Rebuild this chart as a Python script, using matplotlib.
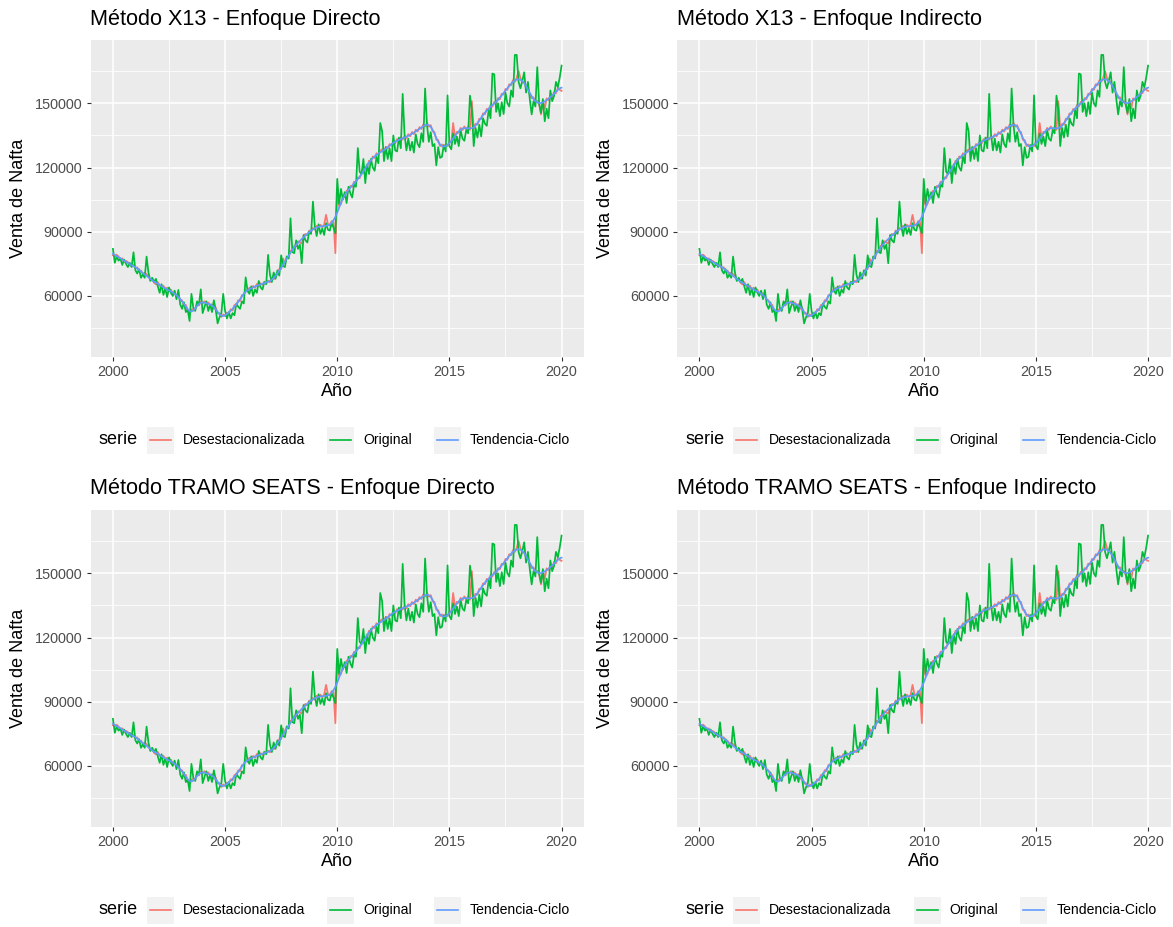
import numpy as np
import matplotlib
matplotlib.use('Agg')
import matplotlib.pyplot as plt
from matplotlib.patches import Rectangle
from matplotlib.lines import Line2D

plt.rcParams['font.family'] = ['Liberation Sans', 'DejaVu Sans']

# monthly data, Jan 2000 .. Jan 2020, in thousands of units
original = [
    82.0, 75.5, 78.5, 76.5, 77.5, 74.5, 77.0, 75.0, 73.5, 75.5, 73.5, 80.4,
    72.0, 70.5, 72.5, 68.5, 70.0, 68.5, 78.4, 71.0, 67.0, 68.5, 66.5, 68.0,
    64.5, 61.5, 65.5, 60.5, 63.5, 59.5, 64.0, 61.5, 60.0, 62.5, 58.5, 62.8,
    56.0, 54.0, 57.0, 52.5, 53.5, 48.3, 61.0, 54.5, 53.0, 57.5, 56.0, 63.1,
    52.0, 55.0, 57.5, 53.0, 56.0, 52.5, 58.0, 53.5, 47.2, 50.0, 52.0, 61.0,
    53.0, 49.5, 52.5, 49.5, 52.0, 51.0, 56.5, 55.0, 54.0, 57.5, 56.5, 68.7,
    62.5, 61.0, 64.5, 60.0, 63.0, 61.5, 67.0, 64.0, 63.0, 66.5, 65.5, 79.2,
    70.0, 66.5, 71.0, 68.0, 72.0, 69.5, 79.0, 74.0, 73.5, 78.5, 77.5, 96.3,
    80.5, 80.0, 86.0, 82.0, 84.0, 75.3, 88.5, 86.0, 85.0, 90.0, 89.0, 104.1,
    92.5, 88.0, 93.5, 89.0, 91.5, 88.5, 94.0, 91.0, 90.5, 94.0, 92.0, 89.3,
    114.7, 103.0, 110.0, 105.0, 108.5, 103.4, 111.0, 108.0, 106.0, 112.0, 111.0, 129.1,
    118.0, 117.0, 124.0, 112.7, 121.5, 117.0, 124.0, 120.0, 118.5, 125.0, 122.0, 140.8,
    137.0, 123.0, 129.5, 124.0, 129.0, 123.0, 135.0, 128.0, 127.5, 134.0, 129.0, 154.4,
    135.5, 128.0, 133.5, 128.0, 132.0, 127.0, 135.5, 131.0, 129.5, 136.0, 132.0, 156.9,
    140.0, 132.0, 136.5, 130.0, 131.0, 121.0, 129.5, 124.5, 125.0, 130.5, 127.5, 153.7,
    130.0, 128.5, 136.0, 131.0, 134.5, 130.0, 137.5, 133.5, 132.5, 137.5, 136.0, 153.6,
    147.0, 130.0, 138.5, 134.0, 140.0, 134.5, 143.0, 140.5, 139.5, 147.0, 143.0, 163.9,
    163.5, 146.0, 150.0, 144.0, 150.5, 145.0, 155.0, 150.0, 148.5, 156.0, 153.0, 172.6,
    172.6, 160.0, 157.0, 160.5, 164.5, 155.0, 160.0, 152.0, 144.8, 151.0, 148.5, 166.9,
    150.0, 145.5, 152.0, 141.6, 147.5, 143.0, 156.0, 151.0, 153.5, 160.0, 157.5, 162.0,
    167.6,
]

desestacionalizada = [
    79.0, 78.6, 79.3, 78.4, 77.0, 77.6, 76.0, 76.4, 75.8, 74.6, 74.0, 74.5,
    72.8, 73.4, 71.6, 71.9, 70.2, 70.8, 70.2, 69.4, 67.5, 67.8, 66.2, 65.4,
    66.5, 64.7, 64.2, 64.8, 63.0, 63.9, 62.0, 63.0, 61.2, 61.8, 59.6, 60.0,
    58.3, 57.9, 55.6, 55.8, 52.9, 52.0, 53.6, 53.9, 53.7, 56.0, 55.6, 57.4,
    56.5, 57.6, 56.1, 57.0, 55.4, 56.2, 54.0, 54.6, 51.8, 52.0, 50.2, 51.4,
    50.6, 52.2, 51.8, 53.8, 53.2, 55.8, 55.4, 58.0, 57.6, 60.4, 60.4, 62.8,
    62.0, 63.9, 63.1, 64.7, 63.8, 65.6, 64.6, 66.0, 65.2, 66.7, 65.8, 67.2,
    66.4, 68.3, 67.8, 70.1, 70.0, 72.6, 72.6, 77.5, 75.3, 78.2, 78.0, 81.2,
    80.8, 83.5, 83.2, 85.6, 85.0, 84.5, 88.0, 89.0, 88.4, 90.6, 89.8, 91.8,
    91.0, 92.8, 91.8, 93.3, 92.0, 93.4, 97.9, 93.6, 92.8, 95.0, 94.6, 80.0,
    108.5, 102.0, 103.0, 106.3, 106.2, 109.2, 108.8, 111.4, 110.9, 113.4, 112.8, 115.4,
    115.0, 117.8, 117.4, 120.5, 120.2, 123.2, 122.6, 125.2, 124.4, 126.7, 125.8, 127.9,
    128.5, 127.5, 129.7, 128.8, 131.0, 130.2, 132.3, 131.3, 133.3, 132.2, 134.1, 133.0,
    134.8, 133.7, 135.6, 134.6, 136.6, 135.6, 137.7, 136.8, 138.9, 138.0, 140.1, 139.2,
    140.8, 139.1, 139.8, 136.9, 136.6, 133.0, 132.8, 130.0, 130.8, 129.1, 130.8, 130.0,
    132.2, 131.7, 140.8, 134.0, 136.7, 136.2, 138.5, 137.5, 139.2, 137.7, 139.1, 137.6,
    151.0, 138.0, 140.4, 140.0, 142.8, 142.6, 145.3, 144.9, 147.4, 146.8, 149.2, 148.5,
    150.7, 150.0, 152.4, 151.9, 154.5, 154.1, 156.7, 156.3, 158.9, 158.4, 160.8, 160.0,
    161.9, 165.0, 161.8, 159.7, 160.2, 157.3, 157.2, 154.1, 152.4, 152.8, 150.2, 151.2,
    149.4, 144.8, 151.2, 147.5, 152.3, 151.5, 153.7, 153.0, 155.3, 154.7, 157.1, 156.3,
    155.8,
]

tendencia = [
    79.7, 79.2, 78.6, 78.1, 77.6, 77.0, 76.5, 76.0, 75.4, 74.9, 74.3, 73.9,
    73.5, 72.8, 72.1, 71.4, 70.7, 70.0, 69.4, 68.7, 68.0, 67.3, 66.7, 66.2,
    65.8, 65.2, 64.6, 64.0, 63.5, 63.0, 62.6, 62.1, 61.6, 61.0, 60.3, 59.6,
    58.5, 57.5, 56.3, 55.0, 53.8, 53.0, 52.7, 53.2, 54.2, 55.3, 56.2, 56.8,
    57.0, 56.9, 56.6, 56.3, 56.0, 55.5, 54.8, 53.8, 52.6, 51.5, 50.8, 50.6,
    51.0, 51.6, 52.3, 53.1, 54.0, 55.0, 56.0, 57.2, 58.5, 59.8, 61.0, 62.0,
    62.7, 63.2, 63.6, 64.0, 64.4, 64.8, 65.1, 65.4, 65.7, 66.0, 66.3, 66.6,
    67.0, 67.6, 68.4, 69.4, 70.6, 71.9, 73.2, 74.6, 76.0, 77.4, 78.8, 80.2,
    81.5, 82.7, 83.8, 84.8, 85.7, 86.6, 87.4, 88.2, 89.0, 89.8, 90.5, 91.1,
    91.6, 92.0, 92.3, 92.5, 92.6, 92.7, 92.8, 93.0, 93.4, 94.2, 95.4, 97.0,
    99.0, 101.3, 103.6, 105.5, 107.0, 108.3, 109.5, 110.6, 111.6, 112.6, 113.6, 114.6,
    115.7, 116.9, 118.2, 119.6, 121.0, 122.3, 123.4, 124.4, 125.2, 125.9, 126.5, 127.1,
    127.6, 128.2, 128.8, 129.5, 130.2, 130.9, 131.5, 132.0, 132.5, 132.9, 133.3, 133.7,
    134.0, 134.4, 134.8, 135.3, 135.8, 136.3, 136.9, 137.5, 138.1, 138.7, 139.3, 139.8,
    140.0, 139.8, 139.0, 137.6, 135.8, 133.8, 132.0, 130.7, 130.0, 129.8, 130.0, 130.6,
    131.4, 132.4, 133.5, 134.7, 135.9, 136.9, 137.7, 138.2, 138.4, 138.4, 138.3, 138.3,
    138.4, 138.8, 139.6, 140.7, 142.0, 143.3, 144.5, 145.6, 146.6, 147.5, 148.4, 149.2,
    149.9, 150.7, 151.6, 152.6, 153.7, 154.8, 155.9, 157.0, 158.1, 159.1, 160.0, 160.7,
    161.1, 161.2, 161.0, 160.4, 159.4, 158.0, 156.4, 154.8, 153.3, 152.0, 151.0, 150.4,
    150.1, 150.1, 150.4, 150.9, 151.5, 152.2, 152.9, 153.7, 154.5, 155.4, 156.3, 157.0,
    157.3,
]

titulos = [
    'Método X13 - Enfoque Directo',
    'Método X13 - Enfoque Indirecto',
    'Método TRAMO SEATS - Enfoque Directo',
    'Método TRAMO SEATS - Enfoque Indirecto',
]
series = ['Desestacionalizada', 'Original', 'Tendencia-Ciclo']
colores = ['#F8766D', '#00BA38', '#619CFF']
x_ticks = [2000, 2005, 2010, 2015, 2020]
y_ticks = [60000, 90000, 120000, 150000]

anio = 2000 + np.arange(len(original)) / 12
valores = [np.array(desestacionalizada) * 1000,
           np.array(original) * 1000,
           np.array(tendencia) * 1000]

W, H = 1173, 927
fig = plt.figure(figsize=(W / 100, H / 100), dpi=100)
fig.patch.set_facecolor('white')


def fx(px):
    return px / W


def fy(py):
    return 1 - py / H


def draw_legend(cx, cy):
    # ggplot-like legend: title on the left, grey key boxes
    renderer = fig.canvas.get_renderer()
    key = 27
    items = []
    t = fig.text(0, fy(cy), 'serie', fontsize=13, va='center', ha='left')
    items.append(('text', t, t.get_window_extent(renderer).width))
    for nombre, c in zip(series, colores):
        items.append(('key', c, key))
        t = fig.text(0, fy(cy), nombre, fontsize=10.1, va='center', ha='left')
        items.append(('text', t, t.get_window_extent(renderer).width))
    gaps = [9, 9, 22, 9, 22, 9]
    total = sum(w for _, _, w in items) + sum(gaps)
    x = cx - total / 2
    for i, (kind, obj, w) in enumerate(items):
        if kind == 'text':
            obj.set_x(fx(x))
        else:
            fig.add_artist(Rectangle((fx(x), fy(cy + key / 2)), key / W, key / H,
                                     transform=fig.transFigure,
                                     facecolor='#F2F2F2', edgecolor='none'))
            fig.add_artist(Line2D([fx(x + 3), fx(x + key - 3)], [fy(cy), fy(cy)],
                                  transform=fig.transFigure, color=obj, lw=1.2))
        x += w
        if i < len(gaps):
            x += gaps[i]


cols = [(90.5, 584.0), (677.0, 1170.5)]
row_off = [0, 470]

for k, titulo in enumerate(titulos):
    left, right = cols[k % 2]
    off = row_off[k // 2]
    top, bottom = 39.5 + off, 357 + off
    ax = fig.add_axes([fx(left), fy(bottom), (right - left) / W, (bottom - top) / H])
    ax.set_facecolor('#EBEBEB')
    for v, c in zip(valores, colores):
        ax.plot(anio, v, color=c, lw=1.25)
    ax.set_xlim(1999, 2021)
    ax.set_ylim(31500, 179800)
    ax.set_xticks(x_ticks)
    ax.set_xticks([2002.5, 2007.5, 2012.5, 2017.5], minor=True)
    ax.set_yticks(y_ticks)
    ax.set_yticklabels([str(v) for v in y_ticks])
    ax.set_yticks([45000, 75000, 105000, 135000, 165000], minor=True)
    ax.grid(which='major', color='white', lw=1.1)
    ax.grid(which='minor', color='white', lw=0.55)
    ax.set_axisbelow(True)
    for s in ax.spines.values():
        s.set_visible(False)
    ax.tick_params(which='minor', length=0)
    ax.tick_params(which='major', length=3, width=0.8, color='#333333',
                   labelcolor='#4D4D4D', labelsize=10.4, pad=2.5)

    fig.text(fx(left), fy(19 + off), titulo, fontsize=15.6, va='center', ha='left')
    fig.text(fx((left + right) / 2), fy(392 + off), 'Año', fontsize=13,
             va='center', ha='center')
    fig.text(fx(left - 71.5), fy((top + bottom) / 2), 'Venta de Nafta', fontsize=13,
             rotation=90, va='center', ha='center')
    draw_legend((left + right) / 2 - 3, 440 + off)

fig.savefig('out.png', dpi=100)
